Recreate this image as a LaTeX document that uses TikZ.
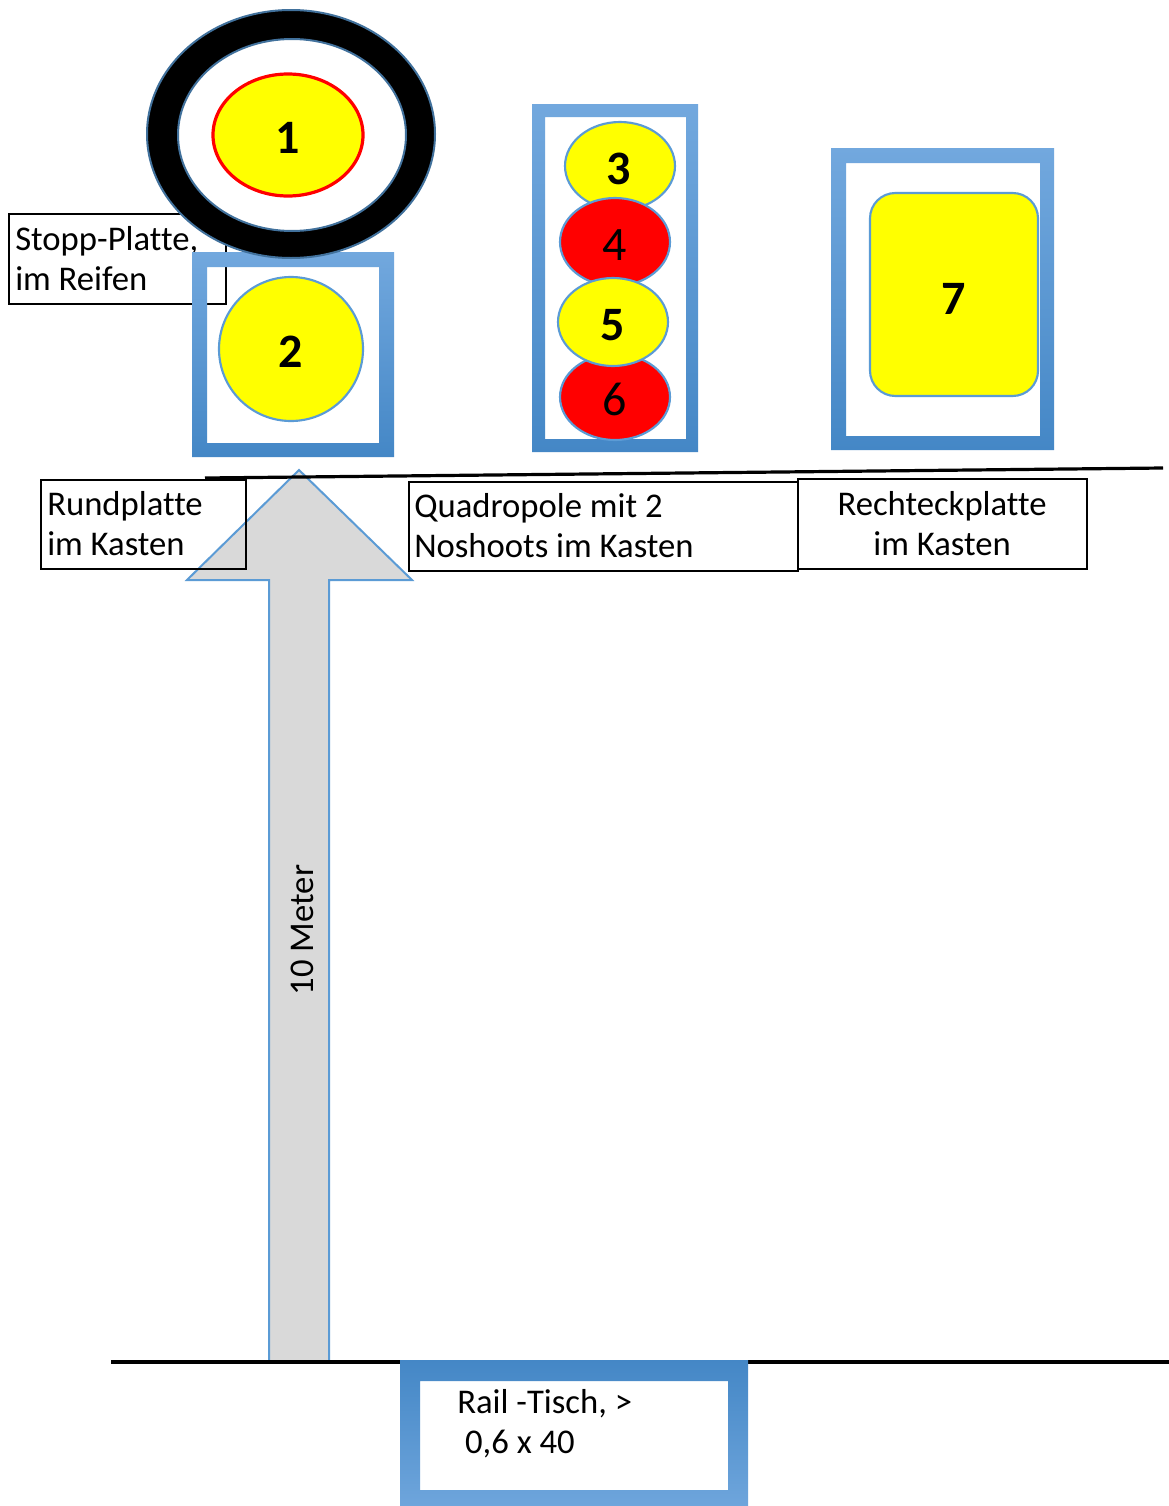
\documentclass[tikz,border=0pt]{standalone}
\usepackage{fontspec}
\setmainfont{Carlito}[Ligatures={NoCommon}]
\definecolor{frametop}{HTML}{72A8DE}
\definecolor{framebot}{HTML}{4487C6}
\definecolor{edgeblue}{HTML}{5B9BD5}
\definecolor{ringline}{HTML}{41719C}
\definecolor{arrowgray}{HTML}{D9D9D9}
\definecolor{plateyellow}{RGB}{255,255,0}
\definecolor{platered}{RGB}{255,0,0}
\tikzset{
  boxframe/.style={even odd rule, top color=frametop, bottom color=framebot},
  railframe/.style={even odd rule, top color=framebot, bottom color=frametop},
  disc/.style={draw=edgeblue, line width=1.6pt},
  labelbox/.style={draw=black, line width=1.4pt},
  txt/.style={font=\fontsize{26}{30}\selectfont, inner sep=0pt, align=left},
  num/.style={font=\fontsize{36}{40}\selectfont\bfseries, inner sep=0pt},
  numreg/.style={font=\fontsize{36}{40}\selectfont, inner sep=0pt},
  floor/.style={draw=black, line width=2.4pt},
}
\begin{document}
\begin{tikzpicture}[x=0.75pt, y=-0.75pt]
\useasboundingbox[fill=white] (0,0) rectangle (1169,1506);

% caption of the stop plate (base anchor sits on the last line)
\draw[labelbox] (9,214) rectangle (226,304);
\node[txt, anchor=base west] (stopp) at (15,290) {Stopp-Platte,\\im Reifen};

% round plate in its box
\shade[boxframe] (192,252) rectangle (394,457) (207,267) rectangle (379,443);
\draw[disc, fill=plateyellow] (291,349) circle [radius=72];
\node[num, anchor=base] (n2) at (291,367) {2};

% stop plate inside the hoop
\fill[black, even odd rule] (291,134) ellipse [x radius=144, y radius=124]
                            (292,135) ellipse [x radius=114, y radius=96];
\draw[ringline, line width=1.5pt] (291,134) ellipse [x radius=144, y radius=124];
\draw[ringline, line width=1.5pt] (292,135) ellipse [x radius=114, y radius=96];
\draw[platered, line width=2.4pt, fill=plateyellow] (288,135) ellipse [x radius=75, y radius=61];
\node[num, anchor=base] (n1) at (288,153) {1};

% quadropole with two no-shoots
\shade[boxframe] (532,104) rectangle (698,452) (545,117) rectangle (686,439);
\draw[disc, fill=plateyellow] (620,166) ellipse [x radius=55, y radius=44];
\draw[disc, fill=platered]    (615,242) ellipse [x radius=55, y radius=44];
\draw[disc, fill=platered]    (615,397) ellipse [x radius=55, y radius=43];
\draw[disc, fill=plateyellow] (613,322) ellipse [x radius=55, y radius=44];
\node[num, anchor=base]    (n3) at (619,184) {3};
\node[numreg, anchor=base] (n4) at (615,260) {4};
\node[num, anchor=base]    (n5) at (613,340) {5};
\node[numreg, anchor=base] (n6) at (615,415) {6};

% rectangular plate in its box
\shade[boxframe] (831,148) rectangle (1054,450) (846,163) rectangle (1040,436);
\draw[disc, fill=plateyellow, rounded corners=19pt] (870,193) rectangle (1038,396);
\node[num, anchor=base] (n7) at (954,314) {7};

% block arrow for the distance
\draw[draw=edgeblue, line width=1.5pt, fill=arrowgray]
  (299,470) -- (412,580) -- (329,580) -- (329,1362) -- (269,1362)
  -- (269,580) -- (187,580) -- cycle;
\node[txt, rotate=90, anchor=base] (dist) at (313,930) {10 Meter};

% target line
\coordinate (tl) at (205,478);
\coordinate (tr) at (1163,468);
\draw[floor] (tl) -- (tr);

% captions under the targets
\draw[labelbox] (41,480) rectangle (246,569);
\node[txt, anchor=base west] (rund) at (47,555) {Rundplatte\\im Kasten};
\draw[labelbox] (409,482) rectangle (798,571);
\node[txt, anchor=base west] (quad) at (414,557) {Quadropole mit 2\\Noshoots im Kasten};
\draw[labelbox] (798,479) rectangle (1087,569);
\node[txt, anchor=base, align=center] (recht) at (942,555) {Rechteckplatte\\im Kasten};

% firing line and table
\coordinate (fl) at (111,1362);
\coordinate (fr) at (1169,1362);
\draw[floor] (fl) -- (fr);
\shade[railframe] (400,1360) rectangle (748,1520) (420,1381) rectangle (728,1490);
\node[txt, anchor=base west] (rail) at (457,1453) {Rail -Tisch, >\\\ 0,6 x 40};
\end{tikzpicture}
\end{document}
